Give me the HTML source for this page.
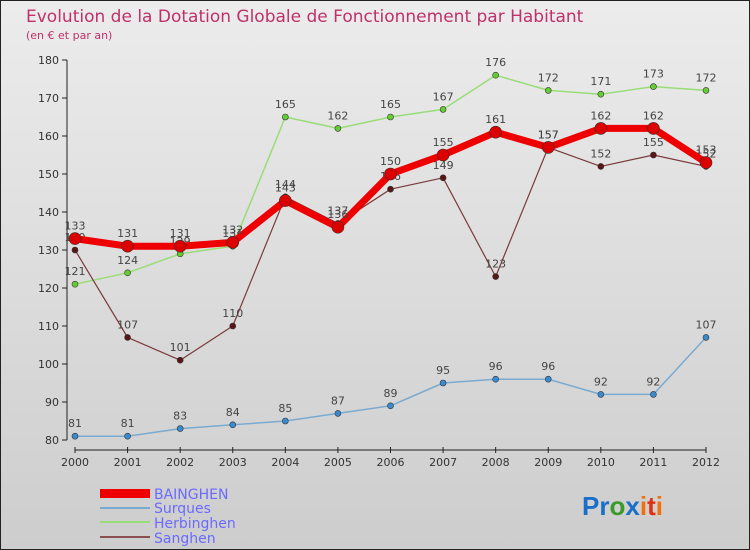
<!DOCTYPE html>
<html><head><meta charset="utf-8"><style>
body{margin:0;width:750px;height:550px;overflow:hidden;font-family:"DejaVu Sans","Liberation Sans",sans-serif}
svg{display:block}
</style></head><body>
<svg id="chart" width="750" height="550" xmlns="http://www.w3.org/2000/svg">
<defs><linearGradient id="bg" x1="0" y1="0" x2="0" y2="1"><stop offset="0" stop-color="#ececec"/><stop offset="1" stop-color="#cdcdcd"/></linearGradient></defs>
<rect x="0.5" y="0.5" width="749" height="549" fill="url(#bg)" stroke="#222"/>
<text x="26" y="22" font-size="17" fill="#c0306a">Evolution de la Dotation Globale de Fonctionnement par Habitant</text>
<text x="26" y="39" font-size="11" fill="#c0306a">(en € et par an)</text>
<g id="axes"></g><g id="series"></g>
<g font-size="14" fill="#6a6aff">
<rect x="100" y="489" width="50" height="9" fill="#e00"/>
<text x="154" y="499">BAINGHEN</text>
<line x1="100" y1="508" x2="150" y2="508" stroke="#7aaad0" stroke-width="2"/>
<text x="154" y="513">Surques</text>
<line x1="100" y1="522" x2="150" y2="522" stroke="#99dd77" stroke-width="2"/>
<text x="154" y="528">Herbinghen</text>
<line x1="100" y1="537" x2="150" y2="537" stroke="#8a5050" stroke-width="2"/>
<text x="154" y="543">Sanghen</text>
</g>
<g font-size="26" font-weight="bold" font-family="Liberation Sans, sans-serif">
<text x="582" y="515"><tspan fill="#1a6fc8">Pr</tspan><tspan fill="#3a9a2a">o</tspan><tspan fill="#1a6fc8">x</tspan><tspan fill="#f07010">i</tspan><tspan fill="#e03010">t</tspan><tspan fill="#f07010">i</tspan></text>
</g>
</svg>
<script>
const years=["2000","2001","2002","2003","2004","2005","2006","2007","2008","2009","2010","2011","2012"];
const yTicks=[80,90,100,110,120,130,140,150,160,170,180];
const bainghen=[133,131,131,132,143,136,150,155,161,157,162,162,153];
const surques=[81,81,83,84,85,87,89,95,96,96,92,92,107];
const herbinghen=[121,124,129,131,165,162,165,167,176,172,171,173,172];
const sanghen=[130,107,101,110,144,137,146,149,123,157,152,155,152];
const NS="http://www.w3.org/2000/svg";
const x=i=>75+i*(706-75)/(years.length-1);
const y=v=>440-(v-80)*3.8;
function mk(t,a,p){const e=document.createElementNS(NS,t);for(const k in a)e.setAttribute(k,a[k]);p.appendChild(e);return e;}
const ax=document.getElementById('axes');
let e=mk('line',{x1:67,y1:60,x2:67,y2:440,stroke:'#222'},ax);


yTicks.forEach(v=>{mk('line',{x1:62,y1:y(v),x2:67,y2:y(v),stroke:'#222'},ax);
const t=mk('text',{x:59,y:y(v)+4,'font-size':11,'text-anchor':'end',fill:'#333'},ax);t.textContent=v;

});
e=mk('line',{x1:75,y1:450,x2:706,y2:450,stroke:'#222'},ax);


years.forEach((yr,i)=>{mk('line',{x1:x(i),y1:447,x2:x(i),y2:453,stroke:'#222'},ax);
const t=mk('text',{x:x(i),y:466,'font-size':11,'text-anchor':'middle',fill:'#333'},ax);t.textContent=yr;

});
const sg=document.getElementById('series');
function draw(name,data,color,w,r,mc){
const g=mk('g',{},sg);


const p=mk('polyline',{points:data.map((v,i)=>x(i)+','+y(v)).join(' '),fill:'none',stroke:color,'stroke-width':w,'stroke-linejoin':'round'},g);


data.forEach((v,i)=>{const c=mk('circle',{cx:x(i),cy:y(v),r:r,fill:mc,stroke:'#333','stroke-width':0.6},g);


const t=mk('text',{x:x(i),y:y(v)-9,'font-size':11,'text-anchor':'middle',fill:'#444'},g);t.textContent=v;

});}
draw('surques',surques,'#7aaad0',1.5,3,'#3a8ad0');
draw('herbinghen',herbinghen,'#99dd77',1.5,3,'#66cc33');
draw('sanghen',sanghen,'#7a3a3a',1.2,3,'#5a1515');
draw('bainghen',bainghen,'#ee0000',7,6,'#dd0000');
</script>
</body></html>
